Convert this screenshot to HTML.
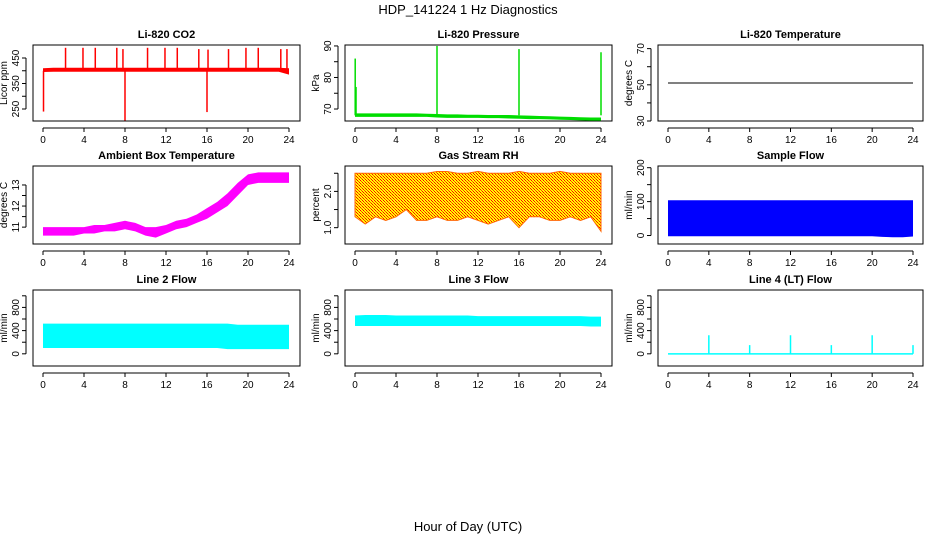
<!DOCTYPE html>
<html><head><meta charset="utf-8"><style>
body{margin:0;background:#fff}
svg{display:block;font-family:"Liberation Sans",sans-serif}
</style></head><body>
<svg id="c" width="936" height="540">
<defs>
<pattern id="rhpat" width="3" height="3" patternUnits="userSpaceOnUse">
<rect width="3" height="3" fill="#ffff00"/>
<rect x="0" y="0" width="1" height="1" fill="#ff0000"/>
<rect x="2" y="2" width="1" height="1" fill="#ff0000"/>
<rect x="1" y="1" width="1" height="1" fill="#ff4400"/>
</pattern>
</defs>
<text x="468" y="14" text-anchor="middle" font-size="13">HDP_141224  1 Hz Diagnostics</text>
<text x="468" y="531" text-anchor="middle" font-size="13">Hour of Day (UTC)</text>
</svg>
<script>
const hours=[0,1,2,3,4,5,6,7,8,9,10,11,12,13,14,15,16,17,18,19,20,21,22,23,24];
const xTicks=[0,4,8,12,16,20,24];
const co2Lo=[395,396,396,396,396,396,396,396,396,396,396,396,396,396,396,396,396,396,396,396,396,396,396,396,385];
const co2Hi=[410,412,412,412,412,412,412,412,412,412,412,412,412,412,412,412,412,412,412,412,412,412,412,412,410];
const co2SpikeH=[2.2,3.9,5.1,7.2,7.8,10.2,11.9,13.1,15.2,16.1,18.1,19.8,21.0,23.2,23.8];
const co2SpikeV=[490,490,490,490,485,490,490,490,485,483,485,490,490,485,485];
const co2DipH=[0.05,8,16];
const co2DipV=[240,205,238];
const presLo=[67.5,67.5,67.5,67.5,67.5,67.5,67.5,67.5,67.3,67.2,67.2,67.2,67.2,67.1,67.1,67.0,66.9,66.8,66.8,66.7,66.6,66.5,66.4,66.3,66.3];
const presHi=[68.6,68.6,68.6,68.6,68.6,68.6,68.6,68.5,68.4,68.3,68.3,68.2,68.2,68.1,68.1,68.1,68.0,67.9,67.8,67.7,67.6,67.5,67.4,67.3,67.3];
const presSpikeH=[0.02,0.1,8,16,24];
const presSpikeV=[86,77,90,89,88];
const tempV=[51,51,51,51,51,51,51,51,51,51,51,51,51,51,51,51,51,51,51,51,51,51,51,51,51];
const ambLo=[10.6,10.6,10.6,10.6,10.7,10.7,10.8,10.8,10.9,10.8,10.6,10.5,10.7,10.9,11.0,11.2,11.4,11.7,12.0,12.5,13.0,13.1,13.1,13.1,13.1];
const ambHi=[11.0,11.0,11.0,11.0,11.0,11.1,11.1,11.2,11.3,11.2,11.0,11.0,11.1,11.3,11.4,11.6,11.9,12.2,12.6,13.1,13.5,13.6,13.6,13.6,13.6];
const rhLo=[1.3,1.1,1.3,1.2,1.3,1.5,1.2,1.2,1.3,1.2,1.2,1.3,1.2,1.1,1.2,1.3,1.0,1.3,1.3,1.2,1.2,1.3,1.2,1.3,0.9];
const rhHi=[2.5,2.5,2.5,2.5,2.5,2.5,2.5,2.5,2.55,2.55,2.5,2.5,2.55,2.5,2.5,2.5,2.55,2.5,2.5,2.5,2.55,2.5,2.5,2.5,2.5];
const sfLo=[-2,-2,-2,-2,-2,-2,-2,-2,-2,-2,-2,-2,-2,-2,-2,-2,-2,-2,-2,-2,-2,-4,-5,-5,-3];
const sfHi=[104,104,104,104,104,104,104,104,104,104,104,104,104,104,104,104,104,104,104,104,104,104,104,104,104];
const l2Lo=[100,100,100,100,100,100,100,100,100,100,100,100,100,100,100,100,100,100,80,80,80,80,80,80,80];
const l2Hi=[520,520,520,520,520,520,520,520,520,520,520,520,520,520,520,520,520,520,520,500,500,500,500,500,500];
const l3Lo=[480,480,480,480,480,480,480,480,480,480,480,480,480,480,480,480,480,480,480,480,480,480,480,470,470];
const l3Hi=[660,670,670,670,660,660,660,660,660,660,660,660,650,650,650,650,650,650,650,650,650,650,650,640,640];
const l4SpikeH=[4,8,12,16,20,24];
const l4SpikeV=[320,150,320,150,320,150];

const NS="http://www.w3.org/2000/svg";
const svg=document.getElementById('c');
function el(t,a,p){const e=document.createElementNS(NS,t);for(const k in a)e.setAttribute(k,a[k]);(p||svg).appendChild(e);return e;}
const cols=[[33,300,43,289],[345,612,355,601],[658,923,668,913]];
const rows=[[45,121],[166,244],[290,366]];
function panel(ci,ri,name,title,ylab,ymin,ymax,ticks,labels){
  const [L,R,x0,x1]=cols[ci],[T,B]=rows[ri];
  const g=el('g',{});
  
  
  const X=h=>x0+(x1-x0)*h/24, Y=v=>B-(B-T)*(v-ymin)/(ymax-ymin);
  const t=el('text',{x:(L+R)/2,y:T-7,'text-anchor':'middle','font-size':11,'font-weight':'bold'},g);t.textContent=title;
  
  const box=el('rect',{x:L,y:T,width:R-L,height:B-T,fill:'none',stroke:'#000','stroke-width':1},g);
  
  el('line',{x1:x0,x2:x1,y1:B+7,y2:B+7,stroke:'#000'},g);
  xTicks.forEach(h=>{el('line',{x1:X(h),x2:X(h),y1:B+7,y2:B+11,stroke:'#000'},g);
    const tx=el('text',{x:X(h),y:B+22,'text-anchor':'middle','font-size':10},g);tx.textContent=h;
    });
  el('line',{x1:L-7,x2:L-7,y1:Y(ticks[0]),y2:Y(ticks[ticks.length-1]),stroke:'#000'},g);
  ticks.forEach(v=>{el('line',{x1:L-11,x2:L-7,y1:Y(v),y2:Y(v),stroke:'#000'},g);});
  labels.forEach(v=>{const tx=el('text',{x:0,y:0,'text-anchor':'middle','font-size':10,transform:`translate(${L-14},${Y(v)}) rotate(-90)`},g);tx.textContent=v;
    });
  const yl=el('text',{x:0,y:0,'text-anchor':'middle','font-size':10,transform:`translate(${L-26},${(T+B)/2}) rotate(-90)`},g);yl.textContent=ylab;
  
  return {g,X,Y};
}
function band(p,lo,hi,fill,name){
  let d='M'+hours.map((h,i)=>p.X(h)+','+p.Y(hi[i])).join('L')+'L'+hours.slice().reverse().map((h,j)=>p.X(h)+','+p.Y(lo[hours.length-1-j])).join('L')+'Z';
  const e=el('path',{d:d,fill:fill},p.g);
  
  
  return e;
}
function spikes(p,H,V,base,color,name){
  H.forEach((h,i)=>{const e=el('line',{x1:p.X(h),x2:p.X(h),y1:p.Y(base),y2:p.Y(V[i]),stroke:color,'stroke-width':1.5},p.g);
    
    });
}
let p=panel(0,0,'co2-panel','Li-820 CO2','Licor ppm',203,501,[250,300,350,400,450],[250,350,450]);
band(p,co2Lo,co2Hi,'#ff0000','co2-band');spikes(p,co2SpikeH,co2SpikeV,400,'#ff0000','co2-spike');spikes(p,co2DipH,co2DipV,400,'#ff0000','co2-dip');
p=panel(1,0,'pressure-panel','Li-820 Pressure','kPa',66.2,90.3,[70,75,80,85,90],[70,80,90]);
band(p,presLo,presHi,'#00dd00','pressure-band');spikes(p,presSpikeH,presSpikeV,68,'#00dd00','pressure-spike');
p=panel(2,0,'temperature-panel','Li-820 Temperature','degrees C',30,72,[30,40,50,60,70],[30,50,70]);
{const e=el('polyline',{points:hours.map((h,i)=>p.X(h)+','+p.Y(tempV[i])).join(' '),fill:'none',stroke:'#000','stroke-width':1},p.g);
}
p=panel(0,1,'ambient-panel','Ambient Box Temperature','degrees C',10.2,13.9,[11,11.5,12,12.5,13],[11,12,13]);
band(p,ambLo,ambHi,'#ff00ff','ambient-band');
p=panel(1,1,'rh-panel','Gas Stream RH','percent',0.55,2.7,[1.0,1.5,2.0,2.5],['1.0','2.0']);
band(p,rhLo,rhHi,'url(#rhpat)','rh-band').setAttribute('stroke','#ff6600');
p=panel(2,1,'sample-flow-panel','Sample Flow','ml/min',-25,205,[0,50,100,150,200],[0,100,200]);
band(p,sfLo,sfHi,'#0000ff','sample-flow-band');
p=panel(0,2,'line2-panel','Line 2 Flow','ml/min',-210,1100,[0,200,400,600,800,1000],[0,400,800]);
band(p,l2Lo,l2Hi,'#00ffff','line2-band');
p=panel(1,2,'line3-panel','Line 3 Flow','ml/min',-210,1100,[0,200,400,600,800,1000],[0,400,800]);
band(p,l3Lo,l3Hi,'#00ffff','line3-band');
p=panel(2,2,'line4-panel','Line 4 (LT) Flow','ml/min',-210,1100,[0,200,400,600,800,1000],[0,400,800]);
{const e=el('line',{x1:p.X(0),x2:p.X(24),y1:p.Y(0),y2:p.Y(0),stroke:'#00ffff','stroke-width':1.5},p.g);
}
spikes(p,l4SpikeH,l4SpikeV,0,'#00ffff','line4-spike');
</script>
</body></html>
